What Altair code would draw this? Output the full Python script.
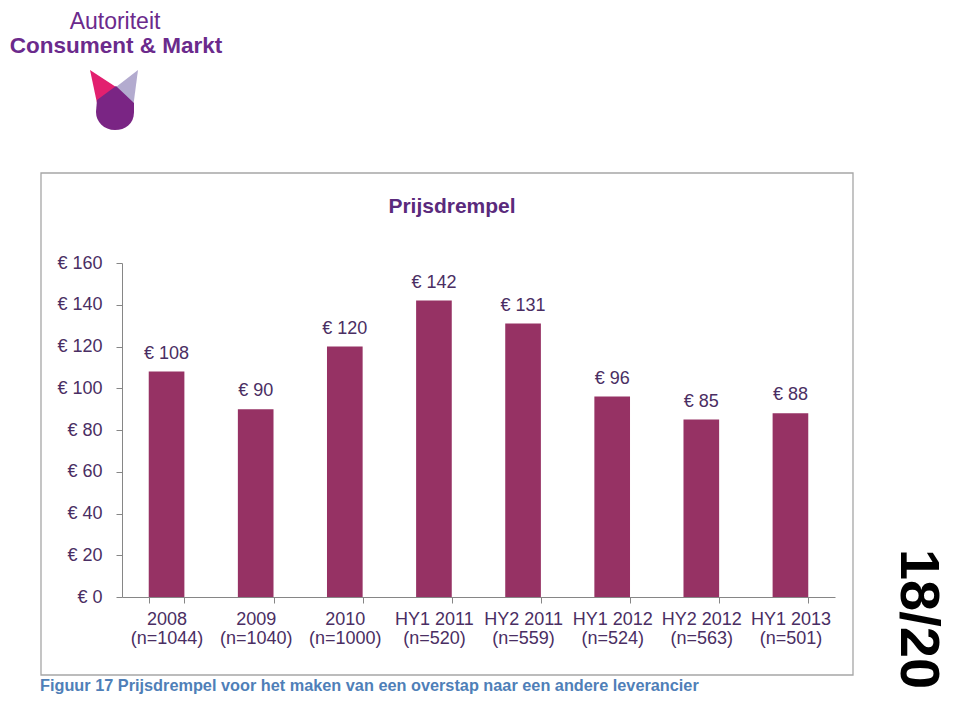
import altair as alt
import pandas as pd

# ---- data ----
periods = ["2008", "2009", "2010", "HY1 2011", "HY2 2011", "HY1 2012", "HY2 2012", "HY1 2013"]
sample_sizes = ["(n=1044)", "(n=1040)", "(n=1000)", "(n=520)", "(n=559)", "(n=524)", "(n=563)", "(n=501)"]
prices = [108, 90, 120, 142, 131, 96, 85, 88]
y_ticks = [0, 20, 40, 60, 80, 100, 120, 140, 160]

chart_title = "Prijsdrempel"
caption = "Figuur 17 Prijsdrempel voor het maken van een overstap naar een andere leverancier"
page_no = "18/20"
org_line1 = "Autoriteit"
org_line2 = "Consument & Markt"

df = pd.DataFrame({
    "cat": [f"{p}|{n}" for p, n in zip(periods, sample_sizes)],
    "price": prices,
    "label": [f"€ {v}" for v in prices],
})
one = pd.DataFrame({"k": [0]})

# ---- layout ----
W, H = 713, 334
PAD_L, PAD_T = 114, 255
X0, Y0 = 8 + PAD_L, 8 + PAD_T  # page position of plot origin


def px(x):
    return x - X0


def py(y):
    return y - Y0


FONT = "Liberation Sans"
BAR = "#963264"
TXT = "#4A2E63"
AXIS_GRAY = "#868686"

x_enc = alt.X(
    "cat:N", sort=None,
    scale=alt.Scale(paddingInner=0.6, paddingOuter=0.3),
    axis=alt.Axis(
        title=None, labelAngle=0, labelExpr="split(datum.label, '|')",
        tickBand="extent", tickSize=6, tickColor=AXIS_GRAY, domainColor=AXIS_GRAY,
        labelFont=FONT, labelFontSize=18, labelColor=TXT, labelPadding=7,
        labelLineHeight=19, labelBaseline="top",
    ),
)
y_enc = alt.Y(
    "price:Q",
    scale=alt.Scale(domain=[0, 160], nice=False),
    axis=alt.Axis(
        title=None, values=y_ticks, labelExpr="'€ ' + datum.value", grid=False,
        tickSize=6, tickColor=AXIS_GRAY, domainColor=AXIS_GRAY,
        labelFont=FONT, labelFontSize=18, labelColor=TXT, labelPadding=14,
    ),
)

bars = alt.Chart(df).mark_bar(color=BAR).encode(x=x_enc, y=y_enc)
labels = alt.Chart(df).mark_text(
    font=FONT, fontSize=18, color=TXT, dy=-18, baseline="middle"
).encode(x=alt.X("cat:N", sort=None), y="price:Q", text="label:N")

border = alt.Chart(one).mark_rect(fill="white", fillOpacity=0, stroke="#A6A6A6", strokeWidth=1.3).encode(
    x=alt.value(px(41)), x2=alt.value(px(853)), y=alt.value(py(173)), y2=alt.value(py(675))
)

title = alt.Chart(one).mark_text(
    font=FONT, fontSize=21, fontWeight="bold", color="#5A2A7C", align="center", baseline="middle"
).encode(x=alt.value(px(452)), y=alt.value(py(207)), text=alt.value(chart_title))

cap = alt.Chart(one).mark_text(
    font=FONT, fontSize=16.3, fontWeight="bold", color="#4F7FB8", align="left", baseline="alphabetic"
).encode(x=alt.value(px(40)), y=alt.value(py(691)), text=alt.value(caption))

pnum = alt.Chart(one).mark_text(
    font=FONT, fontSize=56, fontWeight="bold", color="#000000", align="center", baseline="middle", angle=90
).encode(x=alt.value(px(918)), y=alt.value(py(619)), text=alt.value(page_no))

org1 = alt.Chart(one).mark_text(
    font=FONT, fontSize=23, color="#6B2A8C", align="center", baseline="alphabetic"
).encode(x=alt.value(px(115)), y=alt.value(py(29)), text=alt.value(org_line1))

org2 = alt.Chart(one).mark_text(
    font=FONT, fontSize=22.5, fontWeight="bold", color="#6B2A8C", align="center", baseline="alphabetic"
).encode(x=alt.value(px(116)), y=alt.value(py(53)), text=alt.value(org_line2))

pink_path = "M-0.8,-1 L0.067,-0.433 L-0.567,0.1 Z"
lilac_path = "M0.8,-1 L0.633,0.267 L0.067,-0.433 Z"
purple_path = ("M-0.567,0 L0.067,-0.467 L0.667,0.1 L0.667,0.4 "
               "C0.667,0.8 0.367,1 0.033,1 C-0.333,1 -0.6,0.733 -0.6,0.4 Z")


def logo_part(path, color):
    return alt.Chart(one).mark_point(
        shape=path, filled=True, fill=color, size=3600, opacity=1, strokeWidth=0
    ).encode(x=alt.value(px(114)), y=alt.value(py(100)))


logo = [logo_part(pink_path, "#E2206F"), logo_part(lilac_path, "#B3ABCF"), logo_part(purple_path, "#7A2584")]

chart = alt.layer(border, bars, labels, title, cap, pnum, org1, org2, *logo).properties(
    width=W, height=H,
    padding={"left": PAD_L, "top": PAD_T, "right": 944 - PAD_L - W, "bottom": 687 - PAD_T - H},
    autosize=alt.AutoSizeParams(type="none"),
).configure_view(stroke=None)

chart.save("out.html", embed_options={"renderer": "svg", "actions": False})
